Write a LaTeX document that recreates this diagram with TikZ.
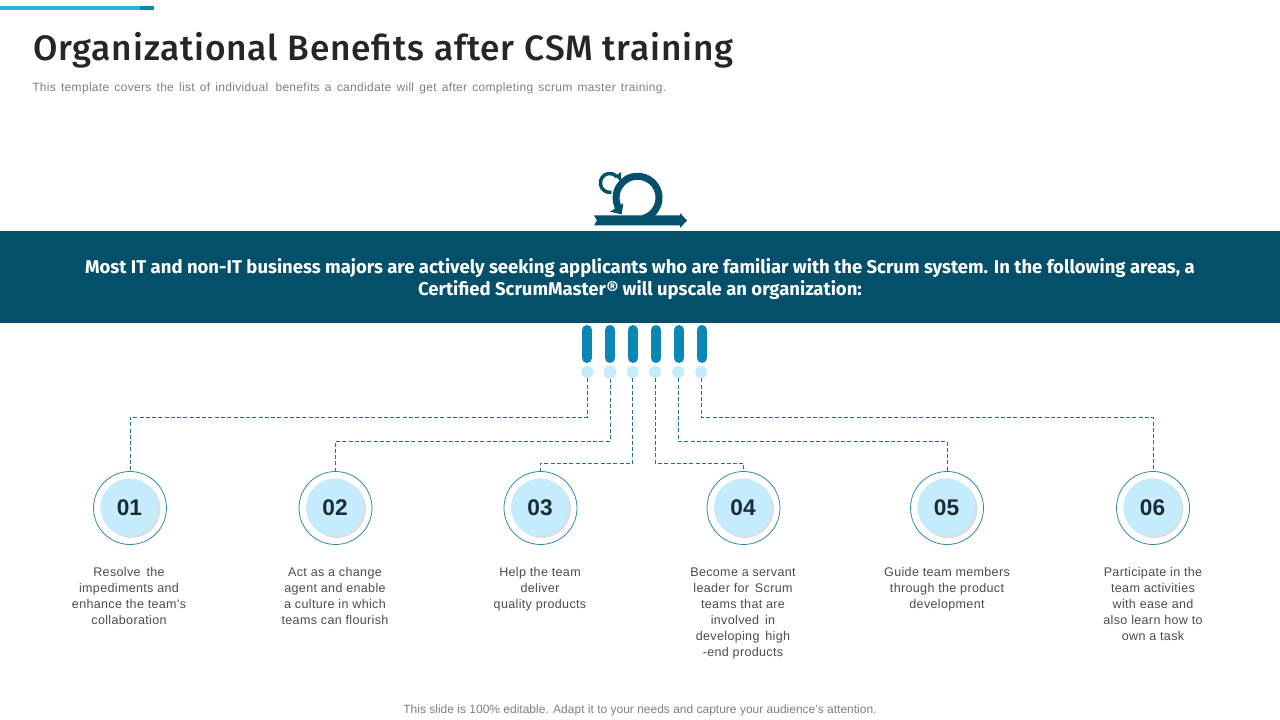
\documentclass[tikz,border=0pt]{standalone}
\usepackage{fontspec}
\setmainfont{Liberation Sans}
\newfontfamily\din{Fira Sans Medium}[LetterSpace=2.3]
\newfontfamily\dinb{Fira Sans}[BoldFont={Fira Sans Bold}]
\newfontfamily\subf{Liberation Sans}[LetterSpace=2.6,WordSpace=1.43]
\newfontfamily\descf{Liberation Sans}[LetterSpace=2.7]
\usetikzlibrary{calc}
\definecolor{navy}{HTML}{04506B}
\definecolor{midblue}{HTML}{0A87B5}
\definecolor{pale}{HTML}{C4ECFC}
\definecolor{topbar}{HTML}{29B3E3}
\definecolor{conn}{HTML}{1F7390}
\definecolor{ringc}{HTML}{2F8CA6}
\definecolor{numc}{HTML}{1C2B3A}
\tikzset{
  x=0.75pt,y=-0.75pt,
  dotnode/.style={circle,fill=pale,inner sep=0pt,minimum size=12*0.75pt},
  pill/.style={line width=7.5pt,line cap=round,draw=midblue},
  ring/.style={circle,draw=ringc,line width=0.6pt,fill=white,inner sep=0pt,minimum size=73*0.75pt},
  numdisc/.style={circle,fill=pale,inner sep=0pt,minimum size=58*0.75pt,font=\fontsize{17}{20}\selectfont\bfseries,text=numc},
  shadowdisc/.style={circle,fill=black!13,inner sep=0pt,minimum size=58*0.75pt},
  link/.style={draw=conn,line width=0.7pt,dash pattern=on 3pt off 1.7pt},
  desc/.style={align=center,anchor=north,font=\descf\fontsize{9.4}{12}\selectfont,text=black!70},
}
\begin{document}
\begin{tikzpicture}
\useasboundingbox (0,0) rectangle (1280,720);
\fill[white] (0,0) rectangle (1280,720);
% top bar
\fill[topbar] (0,6) rectangle (140,10);
\fill[midblue] (140,6) rectangle (154,10);
% title
\node[anchor=west,inner sep=0pt,text=black!85] (title) at (33,50) {\din\fontsize{26.5}{30}\selectfont Organizational Benefits after CSM training};
\node[anchor=west,inner sep=0pt,text=black!50] (sub) at (32,88.5) {\subf\fontsize{9}{11}\selectfont This template covers the list of individual\, benefits a candidate will get after completing scrum master training.};
% icon
\draw[navy,line width=5.25pt] (643.1,218.5) arc[start angle=75,end angle=-213,radius=21.5];
\fill[navy] (610,211.7) -- (623.3,203.3) -- (621.7,214.3) -- cycle;
\draw[navy,line width=2.6pt] (611.5,192.3) arc[start angle=80,end angle=320,radius=9.5];
\fill[navy] (615.5,176) -- (621,172) -- (621,182) -- cycle;
\fill[navy] (594,215.5) -- (680,215.5) -- (680,213) -- (687,220.5) -- (680,228) -- (680,225.5) -- (594,225.5) -- (597,220.5) -- cycle;
% band
\fill[navy] (0,231) rectangle (1280,323);
\node[inner sep=0pt,align=center,text=white,font=\dinb\bfseries\fontsize{13.87}{16.5}\selectfont] (band) at (640,279) {Most IT and non-IT business majors are actively seeking applicants who are familiar with the Scrum system. In the following areas, a\\Certified ScrumMaster® will upscale an organization:};
% pills
\foreach \x in {587,610,633,656,679,702} \draw[pill] (\x,330) -- (\x,358);
% dots
\node[dotnode] (d1) at (587.3,372) {};
\node[dotnode,minimum size=13*0.75pt] (d2) at (610,372) {};
\node[dotnode] (d3) at (632.8,372) {};
\node[dotnode] (d4) at (655,372) {};
\node[dotnode] (d5) at (678.2,372) {};
\node[dotnode] (d6) at (701.2,372) {};
% circles
\foreach \n/\x/\t in {1/130/01,2/335.5/02,3/540.5/03,4/743.5/04,5/947/05,6/1153/06}{
  \node[ring] (c\n) at (\x,508) {};
  \node[shadowdisc] at (\x+1.5,509) {};
  \node[numdisc] (n\n) at (\x-0.5,507.5) {\raisebox{-0.6pt}{\t}};
}
% connectors
\coordinate (b1) at (d1.south |- 0,417); \coordinate (b6) at (d6.south |- 0,417);
\coordinate (b2) at (d2.south |- 0,441); \coordinate (b5) at (d5.south |- 0,441);
\coordinate (b3) at (d3.south |- 0,463); \coordinate (b4) at (d4.south |- 0,463);
\draw[link] (d1.south) -- (b1) -| (c1.north);
\draw[link] (d2.south) -- (b2) -| (c2.north);
\draw[link] (d3.south) -- (b3) -| (c3.north);
\draw[link] (d4.south) -- (b4) -| (c4.north);
\draw[link] (d5.south) -- (b5) -| (c5.north);
\draw[link] (d6.south) -- (b6) -| (c6.north);
% descriptions
\node[desc] (t1) at (129,563) {Resolve\, the\\impediments and\\enhance the team's\\collaboration};
\node[desc] (t2) at (335,563) {Act as a change\\agent and enable\\a culture in which\\teams can flourish};
\node[desc] (t3) at (540,563) {Help the team\\deliver\\quality products};
\node[desc] (t4) at (743,563) {Become a servant\\leader for\, Scrum\\teams that are\\involved\, in\\developing\, high\\-end products};
\node[desc] (t5) at (947,563) {Guide team members\\through the product\\development};
\node[desc] (t6) at (1153,563) {Participate in the\\team activities\\with ease and\\also learn how to\\own a task};
\node[inner sep=0pt,text=black!50] (foot) at (640,710) {\fontsize{9}{11}\selectfont This slide is 100\% editable. Adapt it to your needs and capture your audience's attention.};
\end{tikzpicture}
\end{document}
